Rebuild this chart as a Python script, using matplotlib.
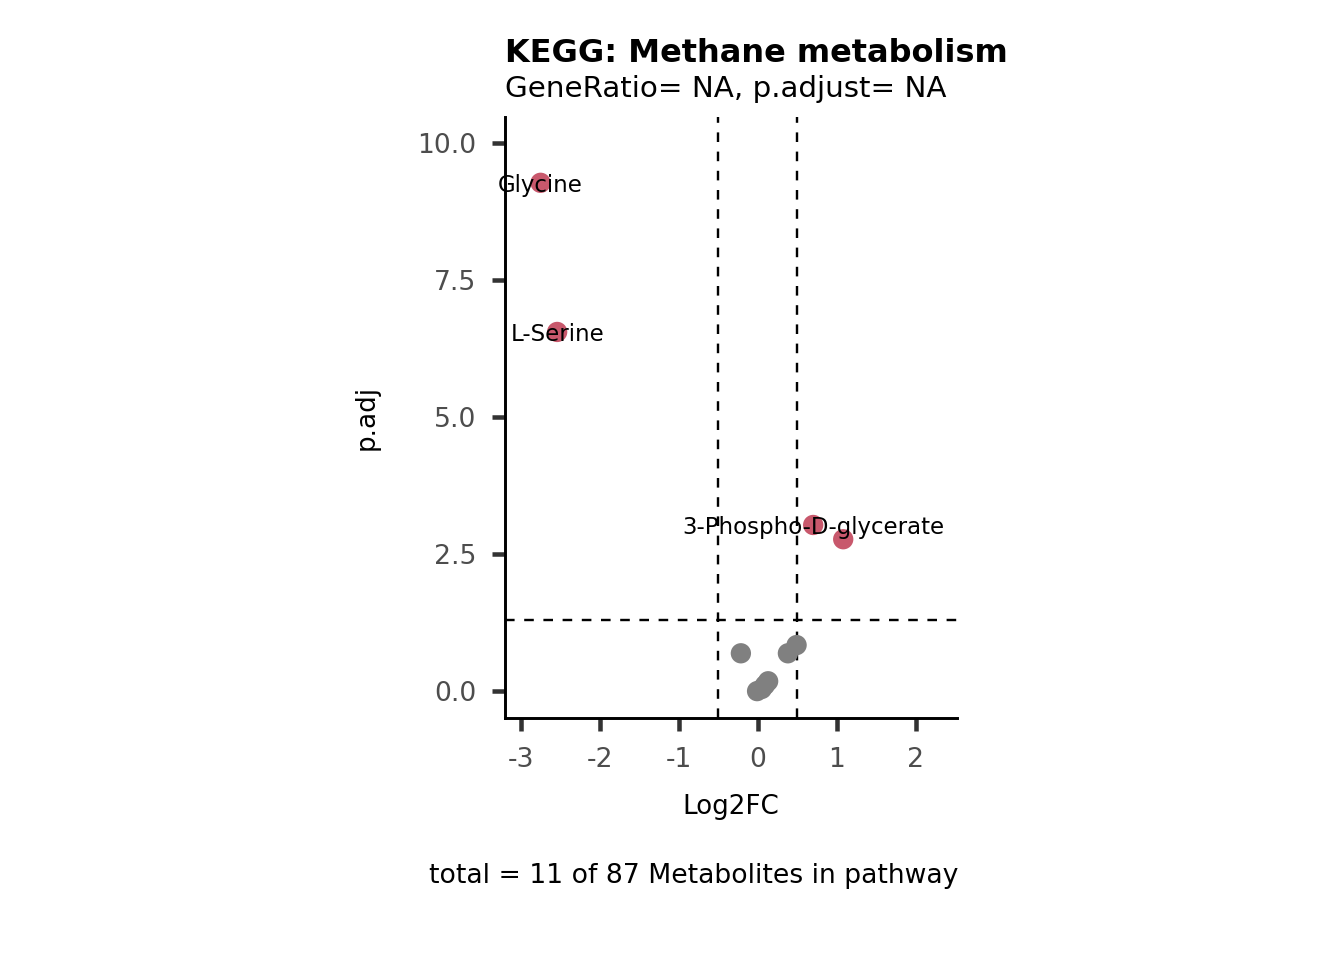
import matplotlib
matplotlib.use("Agg")
import matplotlib.pyplot as plt

plt.rcParams["font.family"] = ["DejaVu Sans"]
plt.rcParams["axes.unicode_minus"] = False

# metabolites in pathway (log2 fold change vs adjusted p, -log10 scale)
names = ["Glycine", "L-Serine", "3-Phospho-D-glycerate", "", "", "", "", "", "", "", ""]
log2fc = [-2.75, -2.54, 0.70, 1.08, -0.215, 0.38, 0.49, 0.13, 0.09, 0.05, -0.01]
padj = [9.27, 6.55, 3.03, 2.77, 0.69, 0.69, 0.84, 0.18, 0.11, 0.04, 0.0]
signif = [True, True, True, True, False, False, False, False, False, False, False]

fc_cut = 0.5
p_cut = 1.301

red = "#C8586C"
grey = "#808080"

W, H = 1344, 960
fig = plt.figure(figsize=(7, 5), dpi=192)
ax = fig.add_axes([505 / W, 1 - 718 / H, (957 - 505) / W, (718 - 117) / H])

cols = [red if s else grey for s in signif]
ax.scatter(log2fc, padj, s=58, c=cols, linewidths=0, zorder=3)

for xv in (-fc_cut, fc_cut):
    ax.axvline(xv, color="black", ls=(0, (4, 4)), lw=0.9, zorder=2)
ax.axhline(p_cut, color="black", ls=(0, (4, 4)), lw=0.9, zorder=2)

for n, xv, yv in zip(names, log2fc, padj):
    if n:
        ax.annotate(n, (xv, yv), xytext=(0, -0.9), textcoords="offset points",
                    ha="center", va="center", fontsize=8.6, zorder=4)

ax.set_xlim(-3.2, 2.52)
ax.set_ylim(-0.49, 10.47)
ax.set_xticks([-3, -2, -1, 0, 1, 2])
ax.set_yticks([0, 2.5, 5, 7.5, 10])
ax.set_yticklabels(["0.0", "2.5", "5.0", "7.5", "10.0"])

for s in ("top", "right"):
    ax.spines[s].set_visible(False)
for s in ("left", "bottom"):
    ax.spines[s].set_linewidth(1.1)
    ax.spines[s].set_color("black")
ax.tick_params(length=4.8, width=1.7, color="#333333", labelcolor="#4D4D4D",
               labelsize=10, pad=6)

ax.set_xlabel("Log2FC", fontsize=9.8, labelpad=8)
ax.set_ylabel("p.adj", fontsize=9.8, labelpad=14)

fig.text(505 / W, 1 - 62 / H, "KEGG: Methane metabolism", fontsize=12,
         fontweight="bold", ha="left", va="baseline")
fig.text(505 / W, 1 - 97 / H, "GeneRatio= NA, p.adjust= NA", fontsize=11,
         ha="left", va="baseline")
fig.text(958 / W, 1 - 883 / H, "total = 11 of 87 Metabolites in pathway",
         fontsize=10, ha="right", va="baseline")

fig.savefig("out.png", dpi=192)
